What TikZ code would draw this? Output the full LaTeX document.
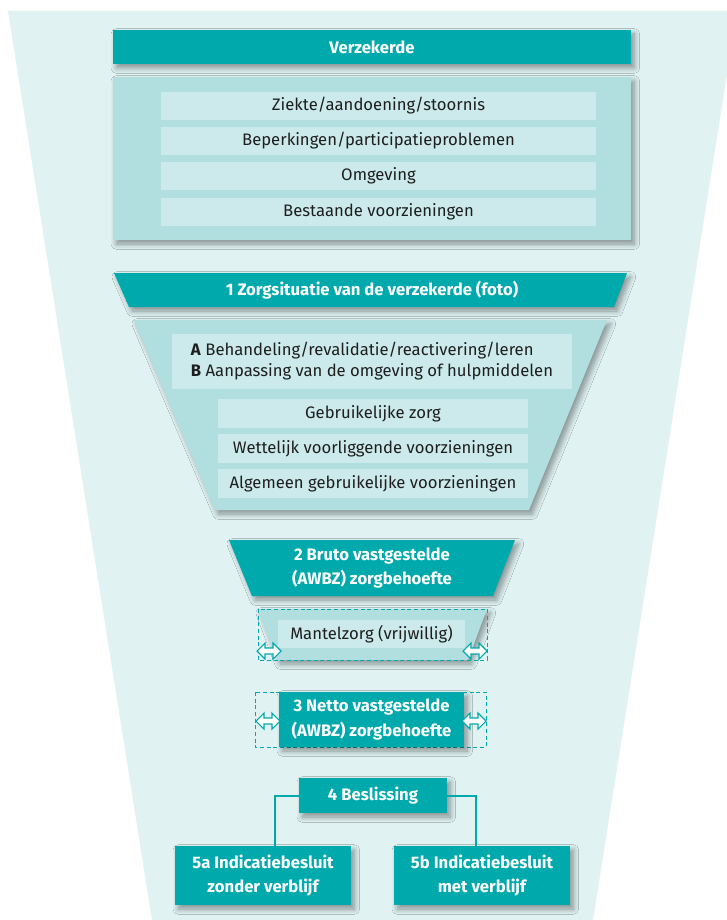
\documentclass[tikz,border=0pt]{standalone}
\usepackage{fontspec}
\setmainfont{Fira Sans}
\usetikzlibrary{shadows.blur}

\definecolor{cizteal}{HTML}{00A9AC}
\definecolor{cizlicht}{HTML}{B1DFE0}
\definecolor{cizrij}{HTML}{CCEAEB}
\definecolor{cizfond}{HTML}{E0F2F2}
\definecolor{ciztekst}{HTML}{1E1E1E}

\tikzset{
  dubbelpijl/.pic={
    \draw[cizteal,fill=white,line width=0.8pt,line join=miter]
      (-12,0) -- (-4,-8) -- (-4,-3) -- (4,-3) -- (4,-8) -- (12,0)
      -- (4,8) -- (4,3) -- (-4,3) -- (-4,8) -- cycle;
  }
}

\begin{document}
\begin{tikzpicture}[x=0.75pt,y=-0.75pt,
    schaduw/.style={blur shadow={shadow xshift=2.5pt,shadow yshift=-3pt,
        shadow blur steps=8,shadow blur radius=4pt,shadow opacity=40}},
    koptekst/.style={text=white,font=\bfseries\fontsize{12.5}{18.5}\selectfont,
        inner sep=0pt,align=center},
    kop/.style={koptekst,fill=cizteal,schaduw},
    vak/.style={fill=cizlicht,inner sep=0pt,schaduw},
    rij/.style={fill=cizrij,text=ciztekst,font=\fontsize{12.5}{15.75}\selectfont,
        inner sep=0pt},
    kader/.style={draw=cizteal,thin,dash pattern=on 3pt off 2pt},
    tak/.style={draw=cizteal,line width=1.5pt}]

    \useasboundingbox (0,0) rectangle (726,920);

    % trechter op de achtergrond
    \fill[cizfond] (8,11) -- (737,11) -- (593,920) -- (152,920) -- cycle;

    % Verzekerde
    \node[kop, minimum width=388.5pt, minimum height=25.5pt] (verzekerde) at (372,47) {Verzekerde};
    \node[vak, minimum width=388.5pt, minimum height=122.25pt] (kenmerken) at (372,158.5) {};
    \node[rij, minimum width=326.25pt, minimum height=21pt] (ziekte) at (378.5,106) {Ziekte/aandoening/stoornis};
    \node[rij, minimum width=326.25pt, minimum height=21pt] (beperking) at (378.5,141) {Beperkingen/participatieproblemen};
    \node[rij, minimum width=326.25pt, minimum height=21pt] (omgeving) at (378.5,176) {Omgeving};
    \node[rij, minimum width=326.25pt, minimum height=21pt] (bestaand) at (378.5,212) {Bestaande voorzieningen};

    % 1 zorgsituatie
    \fill[cizteal,schaduw] (114,273) -- (627,273) -- (614,307) -- (129,307) -- cycle;
    \node[koptekst] (zorgsit) at (372,290) {1 Zorgsituatie van de verzekerde (foto)};

    % trechter met afwegingen
    \fill[cizlicht,schaduw] (134,320) -- (607,320) -- (529,510) -- (215,510) -- cycle;
    \node[rij, minimum width=300pt, minimum height=41.25pt, align=left] (ab) at (372,361.5)
        {\textbf{A} Behandeling/revalidatie/reactivering/leren\\
         \textbf{B} Aanpassing van de omgeving of hulpmiddelen};
    \node[rij, minimum width=232.5pt, minimum height=21.75pt] (gebruik) at (373,413.5) {Gebruikelijke zorg};
    \node[rij, minimum width=232.5pt, minimum height=21.75pt] (wettelijk) at (373,448.5) {Wettelijk voorliggende voorzieningen};
    \node[rij, minimum width=232.5pt, minimum height=21.75pt] (algemeen) at (373,483.5) {Algemeen gebruikelijke voorzieningen};

    % 2 bruto
    \fill[cizteal,schaduw] (229,540) -- (515,540) -- (493,596) -- (252,596) -- cycle;
    \node[koptekst] (bruto) at (372,568) {2 Bruto vastgestelde\\(AWBZ) zorgbehoefte};

    % mantelzorg
    \fill[cizlicht,schaduw] (258,609) -- (487,609) -- (468,660) -- (277,660) -- cycle;
    \draw[kader] (258,609) rectangle (487,660);
    \node[rij, minimum width=140.25pt, minimum height=21pt] (mantel) at (371.5,634) {Mantelzorg (vrijwillig)};
    \pic at (269,651) {dubbelpijl};
    \pic at (475,651) {dubbelpijl};

    % 3 netto
    \draw[kader] (255,692) rectangle (486,747);
    \node[kop, minimum width=138.75pt, minimum height=41.25pt] (netto) at (371.5,719.5) {3 Netto vastgestelde\\(AWBZ) zorgbehoefte};
    \pic at (268,721) {dubbelpijl};
    \pic at (474,721) {dubbelpijl};

    % 4 beslissing en 5a/5b
    \node[kop, minimum width=111pt, minimum height=26.25pt] (beslissing) at (373,795.5) {4 Beslissing};
    \node[kop, minimum width=132pt, minimum height=44.25pt] (zonder) at (263,875.5) {5a Indicatiebesluit\\zonder verblijf};
    \node[kop, minimum width=132pt, minimum height=44.25pt] (met) at (482,875.5) {5b Indicatiebesluit\\met verblijf};

    \draw[tak] (beslissing.west) -| ([xshift=9pt]zonder.north);
    \draw[tak] (beslissing.east) -| ([xshift=-4.5pt]met.north);
\end{tikzpicture}
\end{document}
